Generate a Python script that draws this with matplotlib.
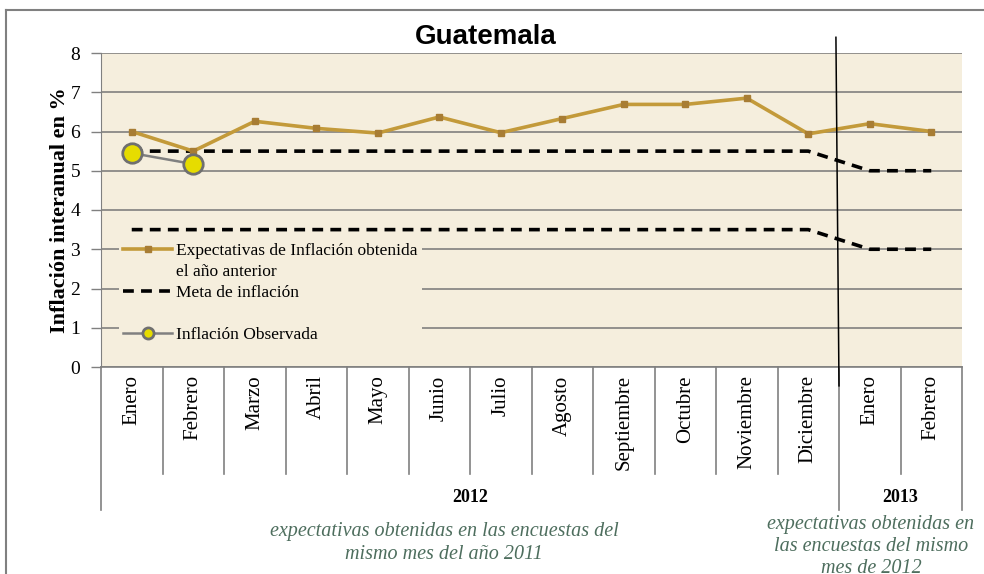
import numpy as np
import matplotlib.pyplot as plt
from matplotlib.lines import Line2D
import matplotlib.transforms as mtransforms

# datos
meses = ['Enero', 'Febrero', 'Marzo', 'Abril', 'Mayo', 'Junio', 'Julio',
         'Agosto', 'Septiembre', 'Octubre', 'Noviembre', 'Diciembre',
         'Enero', 'Febrero']
expectativas = [6.0, 5.5, 6.26, 6.08, 5.96, 6.37, 5.97, 6.33, 6.69, 6.69,
                6.85, 5.94, 6.2, 6.0]
meta_sup = [5.5, 5.5, 5.5, 5.5, 5.5, 5.5, 5.5, 5.5, 5.5, 5.5, 5.5, 5.5, 5.0, 5.0]
meta_inf = [3.5, 3.5, 3.5, 3.5, 3.5, 3.5, 3.5, 3.5, 3.5, 3.5, 3.5, 3.5, 3.0, 3.0]
observada = [5.45, 5.17]
anios = ['2012', '2013']
notas = ['expectativas obtenidas en las encuestas del\nmismo mes del año 2011',
         'expectativas obtenidas en\nlas encuestas del mismo\nmes de 2012']

serif = 'Liberation Serif'
oro = '#C39A3A'
oro_osc = '#A87D34'
fondo = '#F5EEDD'
gris = '#808080'
verde = '#4E6E5E'

fig = plt.figure(figsize=(9.84, 5.74), dpi=100)
ax = fig.add_axes([101 / 984, 1 - 367 / 574, 861 / 984, 314 / 574])
ax.set_facecolor(fondo)

x = np.arange(len(meses))

# lineas de meta
ax.plot(x, meta_sup, color='black', lw=2.6, ls=(0, (3, 2)), zorder=3)
ax.plot(x, meta_inf, color='black', lw=2.6, ls=(0, (3, 2)), zorder=3)
# expectativas
ax.plot(x, expectativas, color=oro, lw=2.6, marker='s', ms=5,
        mfc=oro_osc, mec=oro_osc, zorder=4)
# inflacion observada
ax.plot(x[:len(observada)], observada, color=gris, lw=1.8, marker='o', ms=14,
        mfc='#E6DC00', mec='#6f6f6f', mew=2, zorder=5)

ax.set_xlim(-0.5, len(meses) - 0.5)
ax.set_ylim(0, 8)
ax.set_yticks(range(0, 9))
ax.set_yticklabels([str(i) for i in range(0, 9)], fontfamily=serif, fontsize=14)
ax.tick_params(axis='y', length=7, width=1, color=gris, pad=8)
ax.yaxis.grid(True, color='#777777', lw=1.1)
ax.set_axisbelow(True)
for s in ['top', 'right', 'bottom']:
    ax.spines[s].set_visible(False)
ax.spines['left'].set_color(gris)
ax.set_ylabel('Inflación interanual en %', fontfamily=serif, fontsize=16,
              fontweight='bold', labelpad=0)

ax.set_xticks(x)
ax.set_xticklabels(meses, rotation=90, fontfamily=serif, fontsize=15, va='top')
ax.tick_params(axis='x', length=0, pad=6)

# separadores del eje de categorias
trans = mtransforms.blended_transform_factory(ax.transData, ax.transAxes)
ax.plot([-0.5, 13.5], [0, 0], color=gris, lw=1.2, transform=trans, clip_on=False)
for b in np.arange(-0.5, len(meses)):
    largo = -0.455 if b in (-0.5, 11.5, 13.5) else -0.34
    ax.plot([b, b], [0, largo], color=gris, lw=1.2, transform=trans, clip_on=False)
ax.text(5.5, -0.415, anios[0], transform=trans, ha='center', va='center',
        fontfamily=serif, fontsize=13, fontweight='bold')
ax.text(12.5, -0.415, anios[1], transform=trans, ha='center', va='center',
        fontfamily=serif, fontsize=13, fontweight='bold')
ax.text(5.08, -0.56, notas[0], transform=trans, ha='center', va='center',
        fontfamily=serif, fontsize=14.5, style='italic', color=verde,
        linespacing=1.25)
ax.text(12.02, -0.472, notas[1], transform=trans, ha='center', va='top',
        fontfamily=serif, fontsize=14.5, style='italic', color=verde,
        linespacing=1.2)

# linea vertical de cambio de año
ax.plot([11.45, 11.5], [1.05, -0.06], color='black', lw=1.1, transform=trans,
        clip_on=False, zorder=6)

# leyenda
handles = [
    Line2D([], [], color=oro, lw=2.6, marker='s', ms=5, mfc=oro_osc, mec=oro_osc),
    Line2D([], [], color='none'),
    Line2D([], [], color='black', lw=2.6, ls=(0, (3, 2))),
    Line2D([], [], color='none'),
    Line2D([], [], color=gris, lw=1.8, marker='o', ms=8, mfc='#E6DC00',
           mec='#6f6f6f', mew=2),
]
labels = ['Expectativas de Inflación obtenida', 'el año anterior',
          'Meta de inflación', ' ', 'Inflación Observada']
leg = ax.legend(handles, labels, loc='upper left', bbox_to_anchor=(0.021, 0.41),
                frameon=True, facecolor=fondo, edgecolor='none', framealpha=1,
                fancybox=False, prop={'family': serif, 'size': 12.5},
                handlelength=2.8, handletextpad=0.25, labelspacing=0.28,
                borderpad=0.25, borderaxespad=0)
leg.set_zorder(7)

fig.text(486 / 984, 1 - 37 / 574, 'Guatemala', ha='center', va='center',
         fontfamily='Liberation Sans', fontsize=20, fontweight='bold')

# marco exterior
fig.add_artist(Line2D([6 / 984, 6 / 984], [0, 1 - 10 / 574], color=gris, lw=1.5))
fig.add_artist(Line2D([6 / 984, 1], [1 - 10 / 574, 1 - 10 / 574], color=gris, lw=1.5))

fig.savefig('out.png', dpi=100)
